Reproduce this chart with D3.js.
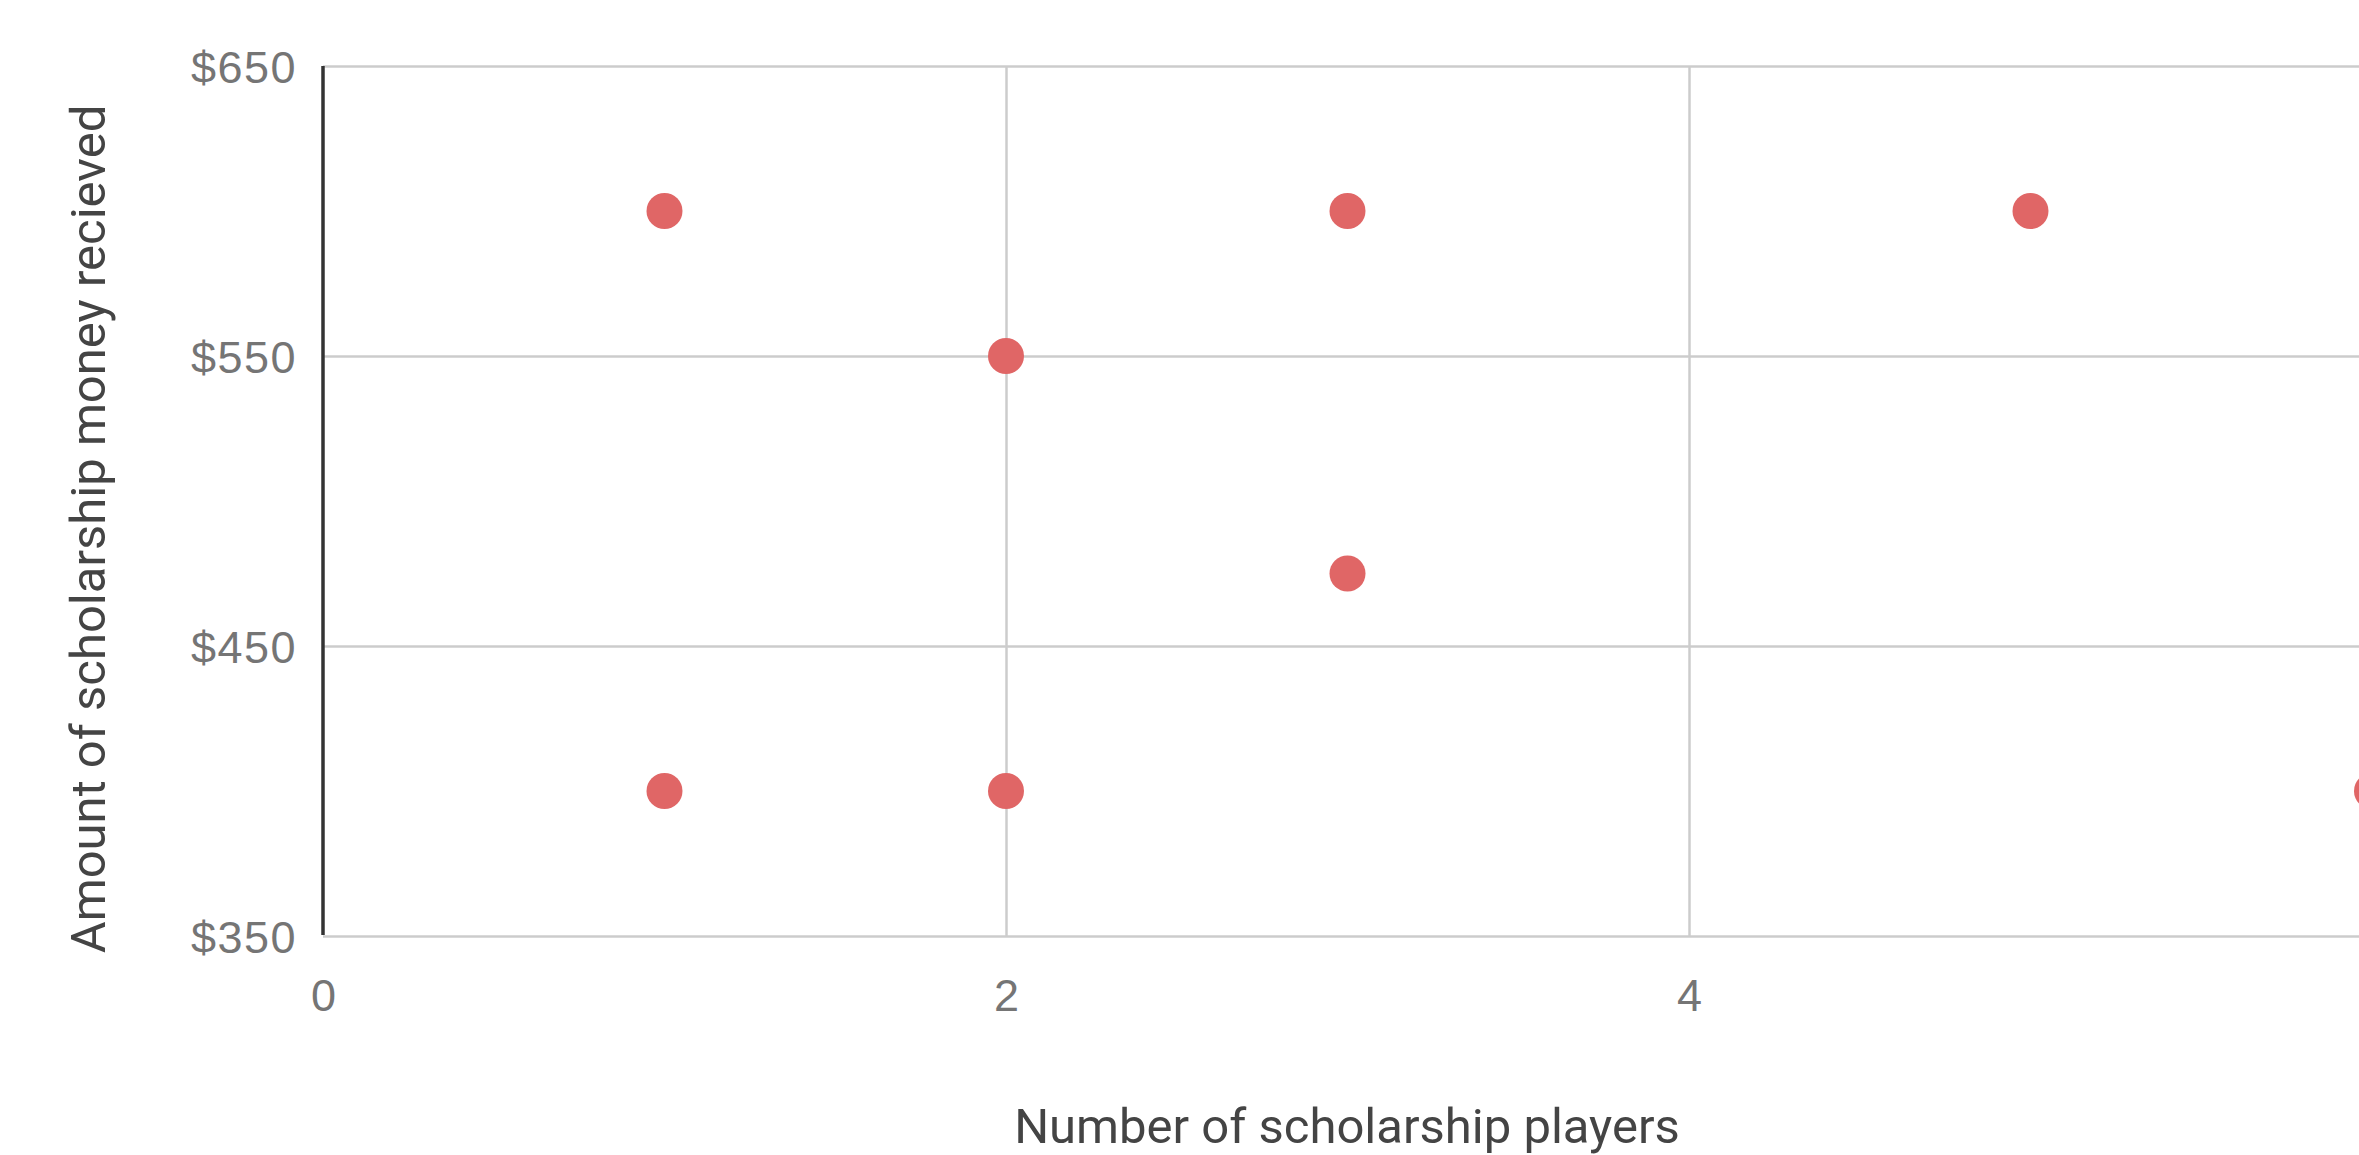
<!DOCTYPE html>
<html>
<head>
<meta charset="utf-8">
<script src="https://cdn.jsdelivr.net/npm/d3@7"></script>
<style>
  html, body { margin: 0; padding: 0; background: #ffffff; overflow: hidden; }
  svg { display: block; font-family: Roboto, "Noto Sans", sans-serif; }
</style>
</head>
<body>
<svg id="chart" width="2359" height="1155"></svg>
<script>
// Data
const players = [1, 1, 2, 2, 3, 3, 5, 6];
const money   = [600, 400, 550, 400, 600, 475, 600, 400];

// Axis ticks
const xTicks = [0, 2, 4, 6];
const yTicks = [350, 450, 550, 650];
const xDomain = [0, 6];
const yDomain = [350, 650];

const xTitle = "Number of scholarship players";
const yTitle = "Amount of scholarship money recieved";

(function () {
  const svg = d3.select("#chart");
  const pLeft = 323, pRight = 2372, pTop = 66, pBottom = 936;

  const x = d3.scaleLinear().domain(xDomain).range([pLeft, pRight]);
  const y = d3.scaleLinear().domain(yDomain).range([pBottom, pTop]);

  // Vertical gridlines + x tick labels
  const gx = svg.append("g")
    .attr("transform", `translate(0,${pBottom})`)
    .call(d3.axisBottom(x).tickValues(xTicks).tickSize(-(pBottom - pTop)).tickPadding(43).tickFormat(d3.format("d")));
  gx.select(".domain").remove();
  gx.selectAll(".tick line").attr("stroke", "#cccccc").attr("stroke-width", 2.5);
  gx.selectAll(".tick text").attr("fill", "#757575").attr("font-size", 45);
  gx.selectAll(".tick").filter(d => d === 0).select("line").remove();

  // Horizontal gridlines + y tick labels
  const gy = svg.append("g")
    .attr("transform", `translate(${pLeft},0)`)
    .call(d3.axisLeft(y).tickValues(yTicks).tickSize(-(pRight - pLeft)).tickPadding(26).tickFormat(d => "$" + d));
  gy.select(".domain").remove();
  gy.selectAll(".tick line").attr("stroke", "#cccccc").attr("stroke-width", 2.5);
  gy.selectAll(".tick text").attr("fill", "#757575").attr("font-size", 45)
    .attr("letter-spacing", 1.5).attr("dy", "0.36em");

  // Left axis line (dark)
  svg.append("line")
    .attr("x1", x(xDomain[0])).attr("x2", x(xDomain[0]))
    .attr("y1", y(yDomain[0]) - 1).attr("y2", y(yDomain[1]))
    .attr("stroke", "#333333").attr("stroke-width", 3.5);

  // Points
  svg.append("g").selectAll("circle")
    .data(players.map((p, i) => ({ p, m: money[i] })))
    .join("circle")
    .attr("cx", d => x(d.p))
    .attr("cy", d => y(d.m))
    .attr("r", 18)
    .attr("fill", "#e06666");

  // X axis title
  svg.append("text")
    .attr("text-anchor", "middle")
    .attr("font-size", 49)
    .attr("fill", "#444444")
    .attr("x", 1347).attr("y", 1143)
    .text(xTitle);

  // Y axis title
  svg.append("text")
    .attr("text-anchor", "middle")
    .attr("font-size", 49)
    .attr("fill", "#444444")
    .attr("transform", "translate(105,529) rotate(-90)")
    .text(yTitle);
})();
</script>
</body>
</html>
